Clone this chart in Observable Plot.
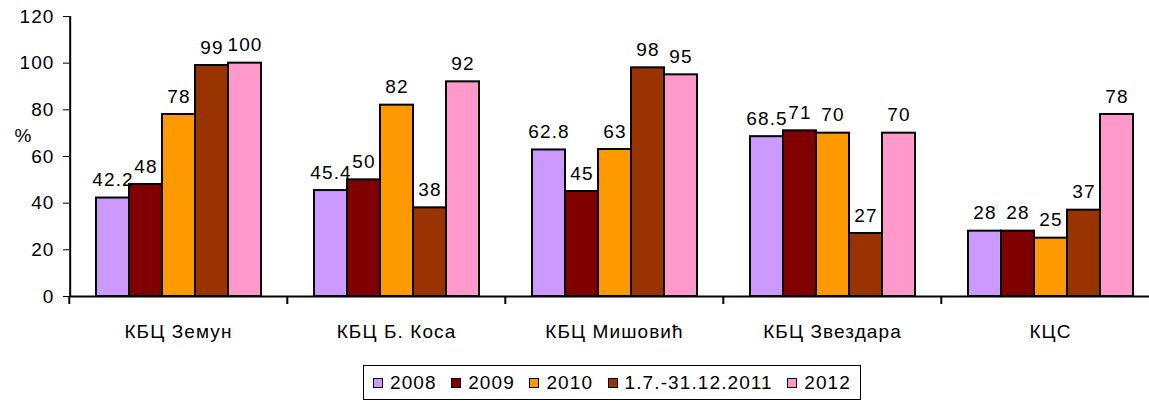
<!DOCTYPE html>
<html><head><meta charset="utf-8">
<script src="https://cdn.jsdelivr.net/npm/d3@7"></script>
<script src="https://cdn.jsdelivr.net/npm/@observablehq/plot@0.6"></script>
<style>
body{margin:0;background:#fff;font-family:"Liberation Sans",Arial,sans-serif;}
#legend{box-sizing:border-box;margin-left:363px;margin-top:15px;width:498px;height:35px;border:1.5px solid #000;display:flex;align-items:center;justify-content:space-between;padding:0 9px 0 9px;font-size:19px;color:#000;letter-spacing:1.1px;}
#legend .item{display:flex;align-items:center;}
#legend .sw{width:8px;height:8px;border:1.5px solid #000;margin-right:7px;}
</style></head><body><div id="chart"></div><div id="legend"></div>
<script>
const categories = ["КБЦ Земун","КБЦ Б. Коса","КБЦ Мишовић","КБЦ Звездара","КЦС"];
const series = ["2008","2009","2010","1.7.-31.12.2011","2012"];
const colors = ["#CC99FF","#800000","#FF9900","#993300","#FF99CC"];
const v2008 = [42.2,45.4,62.8,68.5,28];
const v2009 = [48,50,45,71,28];
const v2010 = [78,82,63,70,25];
const v2011 = [99,38,98,27,37];
const v2012 = [100,92,95,70,78];
const yTicks = [0,20,40,60,80,100,120];

const seriesValues = [v2008,v2009,v2010,v2011,v2012];
const rows = [];
seriesValues.forEach((vals,si)=>vals.forEach((v,ci)=>rows.push({category:categories[ci],series:series[si],value:v})));

const W = 1149, ML = 68, MR = -11;
const PO = 0.79;
const bw = (W - ML - MR) / categories.length;
const step = bw / (series.length + 2 * PO);

const chart = Plot.plot({
  width: W, height: 350,
  marginLeft: ML, marginRight: MR, marginTop: 16, marginBottom: 54,
  style: {fontFamily: "Liberation Sans, Arial, sans-serif", fontSize: "19px", color: "#000", background: "#fff", letterSpacing: "1.1px"},
  fx: {domain: categories, padding: 0, label: null, axis: null},
  x: {domain: series, paddingInner: 0, paddingOuter: PO, axis: null},
  y: {domain: [0,120], ticks: yTicks, tickSize: 6, tickPadding: 9, label: null},
  color: {domain: series, range: colors},
  marks: [
    Plot.barY(rows, {fx:"category", x:"series", y:"value", fill:"series", stroke:"#000", strokeWidth:2, inset:0}),
    Plot.text(rows, {fx:"category", x:"series", y:"value", text:d=>String(d.value), dy:-18, fontSize:19, fill:"#000"}),
    Plot.ruleY([0], {stroke:"#000", strokeWidth:2}),
    Plot.ruleX([series[0]], {fx: ()=>categories[0], x: d=>d, y1: ()=>0, y2: ()=>120, dx: -(PO*step + step/2), stroke:"#000", strokeWidth:2}),
    Plot.axisFx({anchor:"bottom", tickSize:0, tickPadding:28, fontSize:19, label:null}),
    Plot.axisFx({anchor:"bottom", tickSize:8, text:null, dx:-bw/2, label:null, strokeWidth:2}),
    Plot.text(["%"], {fx: ()=>categories[0], frameAnchor:"left", textAnchor:"middle", y: ()=>69, dx:-46, fontSize:19, fill:"#000"})
  ]
});
document.getElementById("chart").appendChild(chart);

const leg = document.getElementById("legend");
series.forEach((s,i)=>{
  const it = document.createElement("div"); it.className="item";
  const sw = document.createElement("div"); sw.className="sw"; sw.style.background=colors[i];
  const t = document.createElement("span"); t.textContent=s;
  it.appendChild(sw); it.appendChild(t); leg.appendChild(it);
});
</script></body></html>
